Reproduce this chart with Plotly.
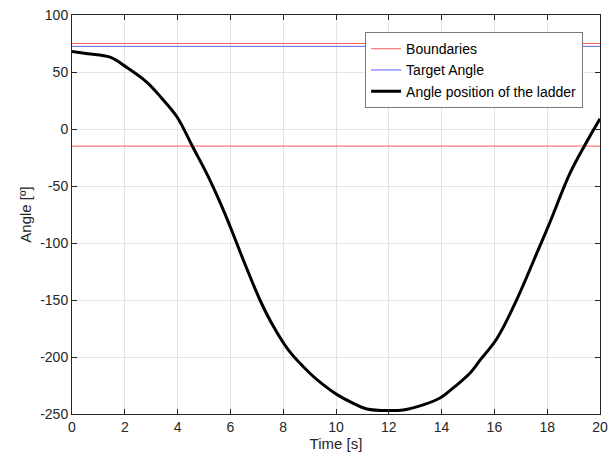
import plotly.graph_objects as go

time_s = [0, 0.6, 1.44, 2.08, 2.84, 3.4, 3.98, 4.58, 5.1, 5.6, 6.05, 6.49, 7.12, 7.6, 8.2, 9.0, 9.5, 10.04, 10.6, 11.17, 12.05, 12.54, 13.3, 13.94, 14.5, 15.08, 15.45, 16.09, 16.84, 17.66, 18.1, 18.86, 19.43, 20.0]
angle = [68, 66, 63, 54, 41, 27, 10.5, -16, -39, -64, -89, -115, -150, -172, -194, -214, -224, -233, -240, -245.6, -247, -246.5, -242, -236, -226, -214, -203, -184, -150, -106, -82, -39, -14, 9]
bound_hi = 75
bound_lo = -15
target = 72.5
xticks = [0, 2, 4, 6, 8, 10, 12, 14, 16, 18, 20]
yticks = [100, 50, 0, -50, -100, -150, -200, -250]
ytext = ["100", "50", "0", "-50", "-100", "-150", "-200", "-250"]

red = "#ff5a5a"
blue = "#5a5aff"
font_family = "Liberation Sans, Arial"

fig = go.Figure()
fig.add_trace(go.Scatter(x=[0, 20], y=[bound_hi, bound_hi], mode="lines",
                         line=dict(color=red, width=1), name="Boundaries"))
fig.add_trace(go.Scatter(x=[0, 20], y=[bound_lo, bound_lo], mode="lines",
                         line=dict(color=red, width=1), showlegend=False))
fig.add_trace(go.Scatter(x=[0, 20], y=[target, target], mode="lines",
                         line=dict(color=blue, width=1), name="Target Angle"))
fig.add_trace(go.Scatter(x=time_s, y=angle, mode="lines", line_shape="spline",
                         line=dict(color="black", width=3, smoothing=1.0),
                         name="Angle position of the ladder"))

axis_common = dict(showgrid=True, gridcolor="#e3e3e3", gridwidth=1, zeroline=False,
                   showline=True, linecolor="#262626", linewidth=1, mirror="ticks",
                   ticks="inside", ticklen=5, tickcolor="#262626", automargin=False,
                   tickfont=dict(family=font_family, size=14, color="#262626"))

fig.update_xaxes(range=[0, 20], tickvals=xticks,
                 title=dict(text="Time [s]", font=dict(family=font_family, size=15, color="#262626"), standoff=2),
                 **axis_common)
fig.update_yaxes(range=[-250, 100], tickvals=yticks, ticktext=ytext,
                 title=dict(text="Angle [º]", font=dict(family=font_family, size=15, color="#262626"), standoff=4),
                 **axis_common)

fig.update_layout(
    width=609, height=466,
    margin=dict(l=72, r=9, t=15, b=52),
    plot_bgcolor="white", paper_bgcolor="white",
    legend=dict(x=0.968, y=0.957, xanchor="right", yanchor="top",
                bgcolor="white", bordercolor="#7a7a7a", borderwidth=1,
                font=dict(family=font_family, size=14, color="black"),
                tracegroupgap=0, itemwidth=30),
    showlegend=True,
)

fig.write_html("out.html")
